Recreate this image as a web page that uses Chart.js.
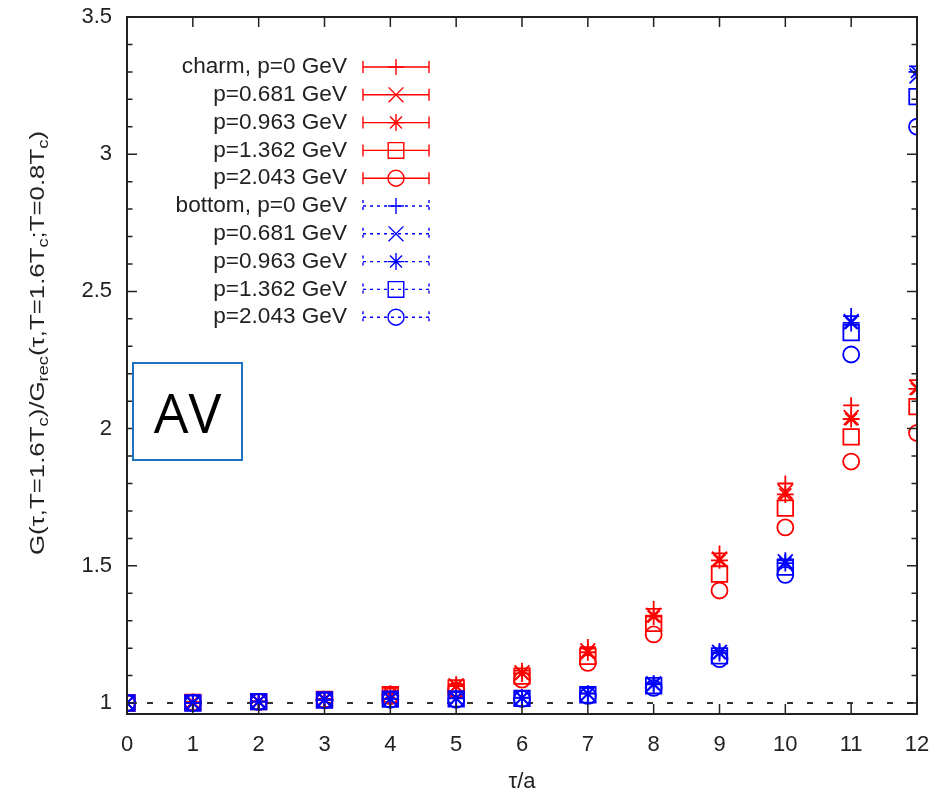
<!DOCTYPE html>
<html>
<head>
<meta charset="utf-8">
<script src="https://cdn.jsdelivr.net/npm/chart.js@4/dist/chart.umd.min.js"></script>
<style>
  html, body { margin: 0; padding: 0; background: #fff; }
  #wrap { position: relative; width: 939px; height: 797px; }
  #av {
    position: absolute; left: 132px; top: 362px; width: 107px; height: 95px;
    border: 2px solid #1f72bf; background: #fff;
    display: flex; align-items: center; justify-content: center;
    font: 55px "Open Sans", "Liberation Sans", sans-serif; color: #000;
  }
</style>
</head>
<body>
<div id="wrap">
  <canvas id="chart" width="939" height="797"></canvas>
  <div id="av">AV</div>
</div>
<script>
'use strict';

// tau/a values and tick labels
const tau = [0, 1, 2, 3, 4, 5, 6, 7, 8, 9, 10, 11, 12];
const xTicks = [0, 1, 2, 3, 4, 5, 6, 7, 8, 9, 10, 11, 12];
const yTicks = [1, 1.5, 2, 2.5, 3, 3.5];

// reference line G/Grec = 1
const refX = [0, 12];
const refY = [1, 1];

// charm ratios (red)
const charmP0    = [1.000, 1.003, 1.006, 1.015, 1.035, 1.068, 1.118, 1.204, 1.343, 1.545, 1.800, 2.085, 2.177];
const charmP681  = [1.000, 1.003, 1.006, 1.014, 1.033, 1.063, 1.110, 1.190, 1.320, 1.525, 1.770, 2.040, 2.150];
const charmP963  = [1.000, 1.003, 1.006, 1.014, 1.033, 1.062, 1.108, 1.185, 1.315, 1.520, 1.760, 2.035, 2.145];
const charmP1362 = [1.000, 1.002, 1.005, 1.013, 1.030, 1.055, 1.098, 1.170, 1.290, 1.470, 1.710, 1.970, 2.080];
const charmP2043 = [1.000, 1.002, 1.004, 1.011, 1.025, 1.047, 1.085, 1.146, 1.250, 1.410, 1.640, 1.880, 1.984];

// bottom ratios (blue)
const bottomP0    = [1.000, 1.000, 1.005, 1.012, 1.016, 1.018, 1.020, 1.035, 1.072, 1.190, 1.520, 2.410, 3.320];
const bottomP681  = [1.000, 1.000, 1.005, 1.012, 1.015, 1.017, 1.019, 1.034, 1.070, 1.185, 1.515, 2.390, 3.285];
const bottomP963  = [1.000, 1.000, 1.005, 1.012, 1.015, 1.017, 1.019, 1.034, 1.068, 1.182, 1.510, 2.385, 3.300];
const bottomP1362 = [1.000, 1.000, 1.005, 1.011, 1.014, 1.015, 1.017, 1.030, 1.063, 1.172, 1.495, 2.350, 3.210];
const bottomP2043 = [1.000, 1.000, 1.004, 1.010, 1.012, 1.012, 1.015, 1.026, 1.055, 1.160, 1.467, 2.270, 3.100];

const charmLabels  = ['charm, p=0 GeV', 'p=0.681 GeV', 'p=0.963 GeV', 'p=1.362 GeV', 'p=2.043 GeV'];
const bottomLabels = ['bottom, p=0 GeV', 'p=0.681 GeV', 'p=0.963 GeV', 'p=1.362 GeV', 'p=2.043 GeV'];

const RED = 'rgb(255,0,0)';
const BLUE = 'rgb(0,0,255)';
const INK = '#222';
const FONT = '"Liberation Sans", Arial, sans-serif';

const markerStyles = ['cross', 'crossRot', 'star', 'rect', 'circle'];
const markerRadius = [8, 10.5, 8.5, 11, 8];

const toXY = vals => tau.map((t, i) => ({ x: t, y: vals[i] }));

function seriesSet(list, labels, color, order) {
  return list.map((vals, i) => ({
    label: labels[i],
    data: toXY(vals),
    showLine: false,
    pointStyle: markerStyles[i],
    pointRadius: markerRadius[i],
    pointHoverRadius: markerRadius[i],
    pointBorderWidth: 1.8,
    pointBorderColor: color,
    pointBackgroundColor: 'rgba(0,0,0,0)',
    borderColor: color,
    order
  }));
}

const datasets = [
  ...seriesSet([bottomP0, bottomP681, bottomP963, bottomP1362, bottomP2043], bottomLabels, BLUE, 1),
  ...seriesSet([charmP0, charmP681, charmP963, charmP1362, charmP2043], charmLabels, RED, 2),
  {
    type: 'line',
    label: 'ref',
    data: refX.map((x, i) => ({ x, y: refY[i] })),
    borderColor: '#333',
    borderWidth: 2,
    borderDash: [6, 14],
    pointRadius: 0,
    fill: false,
    order: 3
  }
];

// draws the gnuplot style frame, ticks, labels and legend
const framePlugin = {
  id: 'frame',
  afterDraw(chart) {
    const { ctx, chartArea: a, scales: { x, y } } = chart;
    ctx.save();
    ctx.strokeStyle = INK;
    ctx.lineWidth = 2;
    ctx.setLineDash([]);
    ctx.strokeRect(a.left, a.top, a.right - a.left, a.bottom - a.top);

    ctx.lineWidth = 1.5;
    ctx.beginPath();
    xTicks.forEach(v => {
      const px = x.getPixelForValue(v);
      ctx.moveTo(px, a.bottom); ctx.lineTo(px, a.bottom - 10);
      ctx.moveTo(px, a.top); ctx.lineTo(px, a.top + 10);
    });
    for (let k = 0; k <= 25; k++) {
      const v = 1 + k * 0.1;
      const py = y.getPixelForValue(v);
      const len = k % 5 === 0 ? 10 : 5.5;
      ctx.moveTo(a.left, py); ctx.lineTo(a.left + len, py);
      ctx.moveTo(a.right, py); ctx.lineTo(a.right - len, py);
    }
    ctx.stroke();

    // tick labels
    ctx.fillStyle = INK;
    ctx.font = '22px ' + FONT;
    ctx.textBaseline = 'middle';
    ctx.textAlign = 'right';
    yTicks.forEach(v => ctx.fillText(String(v), 112, y.getPixelForValue(v)));
    ctx.textAlign = 'center';
    xTicks.forEach(v => ctx.fillText(String(v), x.getPixelForValue(v), 745));

    // x title
    ctx.fillText('\u03c4/a', (a.left + a.right) / 2, 782);

    // y title with subscripts
    const parts = [
      ['G(\u03c4,T=1.6T', 0], ['c', 1], [')/G', 0], ['rec', 1], ['(\u03c4,T=1.6T', 0], ['c', 1],
      [';T=0.8T', 0], ['c', 1], [')', 0]
    ];
    const fontFor = sub => (sub ? '15px ' : '21px ') + FONT;
    let total = 0;
    parts.forEach(([t, sub]) => { ctx.font = fontFor(sub); total += ctx.measureText(t).width; });
    const stretch = 424 / total;
    ctx.save();
    ctx.translate(38, 343);
    ctx.rotate(-Math.PI / 2);
    ctx.scale(stretch, 1);
    ctx.textAlign = 'left';
    let cx = -total / 2;
    parts.forEach(([t, sub]) => {
      ctx.font = fontFor(sub);
      ctx.fillText(t, cx, sub ? 6 : 0);
      cx += ctx.measureText(t).width;
    });
    ctx.restore();

    // legend
    const rows = [
      ...charmLabels.map((t, i) => ({ t, color: RED, dash: [], i })),
      ...bottomLabels.map((t, i) => ({ t, color: BLUE, dash: [3, 4], i }))
    ];
    rows.forEach((r, k) => {
      const ry = 67 + k * 27.8;
      ctx.font = '22.6px ' + FONT;
      ctx.textAlign = 'right';
      ctx.fillStyle = INK;
      ctx.fillText(r.t, 347, ry);
      ctx.strokeStyle = r.color;
      ctx.lineWidth = 1.4;
      ctx.setLineDash(r.dash);
      ctx.beginPath();
      ctx.moveTo(363, ry); ctx.lineTo(429, ry);
      ctx.moveTo(363, ry - 6); ctx.lineTo(363, ry + 6);
      ctx.moveTo(429, ry - 6); ctx.lineTo(429, ry + 6);
      ctx.stroke();
      ctx.setLineDash([]);
      ctx.fillStyle = 'rgba(0,0,0,0)';
      Chart.helpers.drawPoint(ctx, {
        pointStyle: markerStyles[r.i], radius: markerRadius[r.i], rotation: 0, borderWidth: 1.6
      }, 396, ry);
    });
    ctx.restore();
  }
};

new Chart(document.getElementById('chart'), {
  type: 'scatter',
  data: { datasets },
  options: {
    responsive: false,
    animation: false,
    layout: { padding: { top: 17, right: 22, left: 0, bottom: 0 } },
    plugins: { legend: { display: false }, tooltip: { enabled: false } },
    scales: {
      x: {
        type: 'linear', min: 0, max: 12,
        grid: { display: false }, border: { display: false },
        ticks: { display: false },
        afterFit: s => { s.height = 83; }
      },
      y: {
        type: 'linear', min: 0.96, max: 3.5,
        grid: { display: false }, border: { display: false },
        ticks: { display: false },
        afterFit: s => { s.width = 127; }
      }
    }
  },
  plugins: [framePlugin]
});
</script>
</body>
</html>
